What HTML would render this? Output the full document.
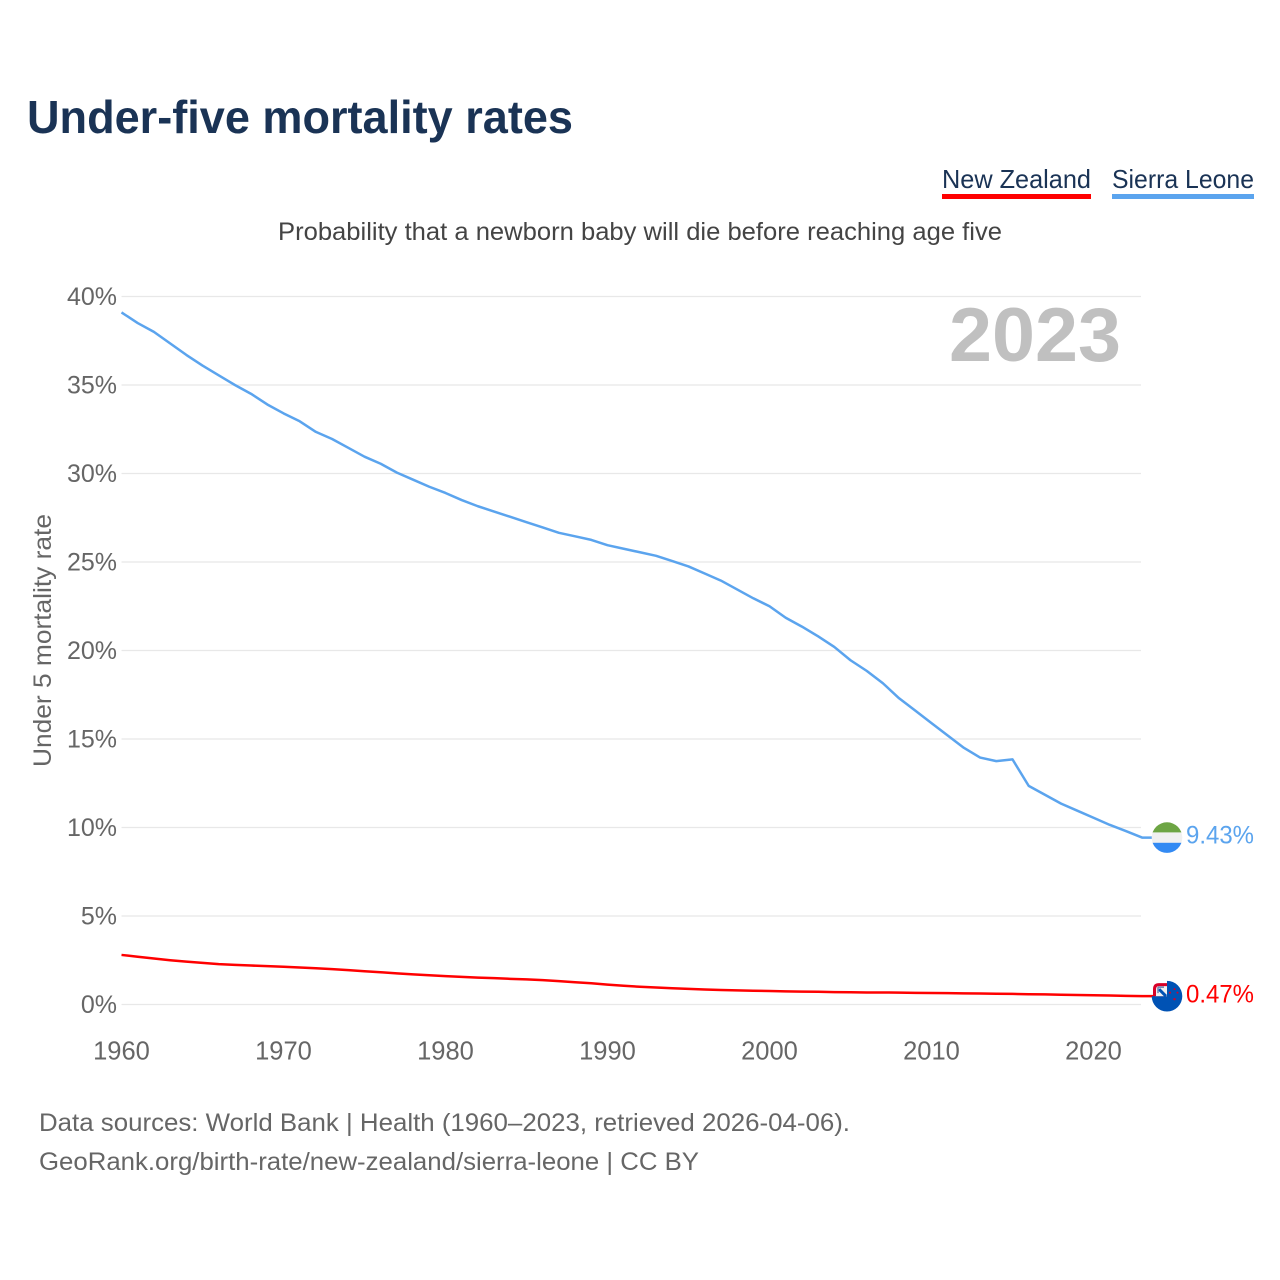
<!DOCTYPE html>
<html lang="en">
<head>
<meta charset="utf-8">
<title>Under-five mortality rates</title>
<style>
html,body{margin:0;padding:0;background:#fff;}
svg{display:block;font-family:"Liberation Sans",sans-serif;}
</style>
</head>
<body>
<svg id="chart" width="1280" height="1280" viewBox="0 0 1280 1280" xmlns="http://www.w3.org/2000/svg">
  <rect x="0" y="0" width="1280" height="1280" fill="#fff"/>
  <text x="27" y="133" font-size="46" font-weight="700" fill="#1a3355" textLength="546" lengthAdjust="spacingAndGlyphs">Under-five mortality rates</text>
  <g>
    <text x="942" y="188" font-size="26" fill="#1a3355" textLength="149" lengthAdjust="spacingAndGlyphs">New Zealand</text>
    <rect x="942" y="194" width="149" height="5" fill="#ff0000"/>
  </g>
  <g>
    <text x="1112" y="188" font-size="26" fill="#1a3355" textLength="142" lengthAdjust="spacingAndGlyphs">Sierra Leone</text>
    <rect x="1112" y="194" width="142" height="5" fill="#5ba4ee"/>
  </g>
  <text x="278" y="240" font-size="25" fill="#444" textLength="724" lengthAdjust="spacingAndGlyphs">Probability that a newborn baby will die before reaching age five</text>
  <g id="grid"></g>
  <g id="yticks"></g>
  <g id="xticks"></g>
  <text transform="translate(51,767) rotate(-90)" font-size="25" fill="#666" textLength="253" lengthAdjust="spacingAndGlyphs">Under 5 mortality rate</text>
  <text x="949" y="361" font-size="76" font-weight="700" fill="#c0c0c0" textLength="172" lengthAdjust="spacingAndGlyphs">2023</text>
  <g id="series"></g>
  <text x="39" y="1131" font-size="25" fill="#666" textLength="811" lengthAdjust="spacingAndGlyphs">Data sources: World Bank | Health (1960–2023, retrieved 2026-04-06).</text>
  <text x="39" y="1170" font-size="25" fill="#666" textLength="660" lengthAdjust="spacingAndGlyphs">GeoRank.org/birth-rate/new-zealand/sierra-leone | CC BY</text>
</svg>
<script>
const years = [1960,1961,1962,1963,1964,1965,1966,1967,1968,1969,1970,1971,1972,1973,1974,1975,1976,1977,1978,1979,1980,1981,1982,1983,1984,1985,1986,1987,1988,1989,1990,1991,1992,1993,1994,1995,1996,1997,1998,1999,2000,2001,2002,2003,2004,2005,2006,2007,2008,2009,2010,2011,2012,2013,2014,2015,2016,2017,2018,2019,2020,2021,2022,2023];
const sierraLeone = [39.1,38.5,38.0,37.35,36.7,36.1,35.55,35.0,34.5,33.9,33.4,32.95,32.35,31.95,31.45,30.95,30.55,30.05,29.65,29.25,28.9,28.5,28.15,27.85,27.55,27.25,26.95,26.65,26.45,26.25,25.95,25.75,25.55,25.35,25.05,24.75,24.35,23.95,23.45,22.95,22.5,21.85,21.35,20.8,20.2,19.45,18.85,18.15,17.3,16.6,15.9,15.2,14.5,13.95,13.75,13.85,12.35,11.85,11.35,10.95,10.55,10.15,9.8,9.43];
const newZealand = [2.8,2.7,2.6,2.5,2.42,2.35,2.28,2.24,2.2,2.17,2.13,2.09,2.05,2.0,1.94,1.88,1.82,1.76,1.7,1.65,1.6,1.56,1.52,1.49,1.45,1.42,1.38,1.32,1.26,1.2,1.12,1.06,1.0,0.96,0.92,0.88,0.85,0.82,0.8,0.78,0.76,0.74,0.73,0.72,0.7,0.69,0.68,0.68,0.67,0.66,0.65,0.64,0.63,0.62,0.61,0.6,0.58,0.57,0.55,0.54,0.52,0.51,0.49,0.47];
const yTickValues = [0,5,10,15,20,25,30,35,40];
const yTickLabels = ["0%","5%","10%","15%","20%","25%","30%","35%","40%"];
const xTickValues = [1960,1970,1980,1990,2000,2010,2020];
const xTickLabels = ["1960","1970","1980","1990","2000","2010","2020"];

const NS = "http://www.w3.org/2000/svg";
const xScale = function (year) { return 121.5 + (year - 1960) * 16.2; };
const yScale = function (v) { return 1004.5 - v * 17.7; };

function make(tag, attrs, parent) {
  const el = document.createElementNS(NS, tag);
  Object.keys(attrs).forEach(function (k) { el.setAttribute(k, attrs[k]); });
  parent.appendChild(el);
  return el;
}

const gridG = document.getElementById("grid");
const yTicksG = document.getElementById("yticks");
const xTicksG = document.getElementById("xticks");
const seriesG = document.getElementById("series");

yTickValues.forEach(function (v, i) {
  const line = make("line", { x1: 121.5, x2: 1141, y1: yScale(v), y2: yScale(v), stroke: "#e8e8e8", "stroke-width": 1.2 }, gridG);
  
  
  const t = make("text", { x: 117, y: yScale(v) + 8.5, "text-anchor": "end", "font-size": 25, fill: "#666" }, yTicksG);
  
  
  t.textContent = yTickLabels[i];
});

xTickValues.forEach(function (yr, i) {
  const t = make("text", { x: xScale(yr), y: 1059.5, "text-anchor": "middle", "font-size": 25.5, fill: "#666" }, xTicksG);
  
  
  t.textContent = xTickLabels[i];
});

function linePoints(values) {
  return values.map(function (v, i) { return xScale(years[i]).toFixed(2) + "," + yScale(v).toFixed(2); });
}

function drawSeries(values, color) {
  const pts = linePoints(values);
  const last = values[values.length - 1];
  pts.push("1155," + yScale(last).toFixed(2));
  return make("polyline", { points: pts.join(" "), fill: "none", stroke: color, "stroke-width": 2.5, "stroke-linejoin": "round" }, seriesG);
}

const slLine = drawSeries(sierraLeone, "#5ba4ee");


const nzLine = drawSeries(newZealand, "#ff0000");



const defs = make("defs", {}, seriesG);
const clipA = make("clipPath", { id: "sl-clip" }, defs);
make("circle", { cx: 0, cy: 0, r: 15.3 }, clipA);

const slEnd = yScale(sierraLeone[sierraLeone.length - 1]);
const slFlag = make("g", { transform: "translate(1167," + slEnd + ")", "clip-path": "url(#sl-clip)" }, seriesG);


make("rect", { x: -16, y: -16, width: 32, height: 11, fill: "#6da544" }, slFlag);
make("rect", { x: -16, y: -5.2, width: 32, height: 10.6, fill: "#f0f0f0" }, slFlag);
make("rect", { x: -16, y: 5.2, width: 32, height: 11, fill: "#338af3" }, slFlag);

const nzEnd = yScale(newZealand[newZealand.length - 1]);
const nzFlag = make("g", { transform: "translate(1167," + nzEnd + ")" }, seriesG);


make("path", { d: "M0,-15.3 A15.3,15.3 0 1 1 -15.3,0 L0,0 Z", fill: "#0052b4" }, nzFlag);
make("path", { d: "M0,-13 L-8,-13 Q-14,-13 -14,-7 L-14,0 L0,0 Z", fill: "#d80027" }, nzFlag);
make("path", { d: "M0,-10 L-8,-10 Q-11,-10 -11,-7 L-11,0 L0,0 Z", fill: "#f0f0f0" }, nzFlag);
make("path", { d: "M-8,-7 L-1,0", stroke: "#0052b4", "stroke-width": 3, fill: "none" }, nzFlag);
make("path", { d: "M-9,-9 L-9,-3 M-9,-9 L-3,-9", stroke: "#6b7fb0", "stroke-width": 1.5, fill: "none" }, nzFlag);
make("circle", { cx: 3, cy: -3.5, r: 1, fill: "#d80027" }, nzFlag);
make("circle", { cx: 7.5, cy: -7, r: 1, fill: "#d80027" }, nzFlag);
make("circle", { cx: 10.5, cy: -3.5, r: 1, fill: "#d80027" }, nzFlag);
make("circle", { cx: 7.5, cy: 3, r: 1.2, fill: "#d80027" }, nzFlag);

const slValue = make("text", { x: 1186, y: slEnd + 6, "font-size": 25, fill: "#5ba4ee", textLength: 68, lengthAdjust: "spacingAndGlyphs" }, seriesG);


slValue.textContent = sierraLeone[sierraLeone.length - 1].toFixed(2) + "%";

const nzValue = make("text", { x: 1186, y: nzEnd + 6.5, "font-size": 25, fill: "#ff0000", textLength: 68, lengthAdjust: "spacingAndGlyphs" }, seriesG);


nzValue.textContent = newZealand[newZealand.length - 1].toFixed(2) + "%";
</script>
</body>
</html>
